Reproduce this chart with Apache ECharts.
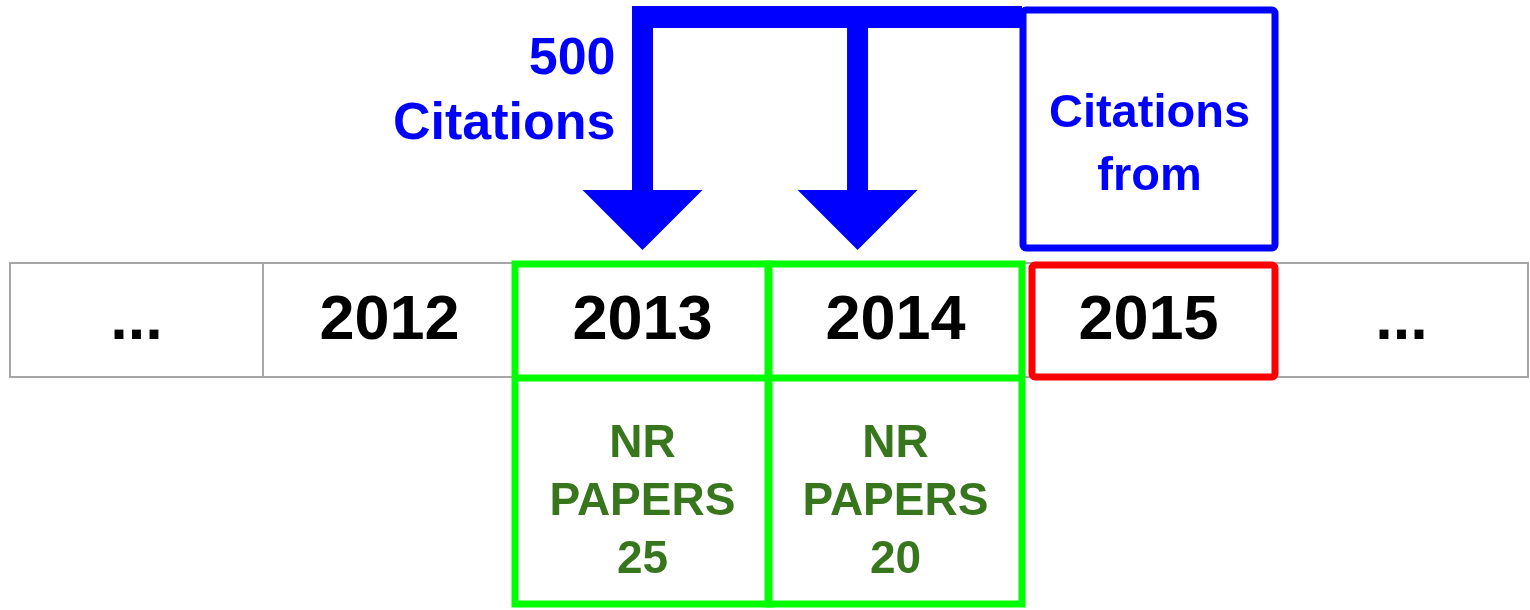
<!DOCTYPE html>
<html>
<head>
<meta charset="utf-8">
<style>
html, body { margin: 0; padding: 0; background: #fff; }
#main { width: 1530px; height: 610px; }
</style>
<script src="https://cdn.jsdelivr.net/npm/echarts@6/dist/echarts.min.js"></script>
</head>
<body>
<div id="main"></div>
<script>
// diagram content
const years = ['...', '2012', '2013', '2014', '2015', '...']
const paperYears = ['2013', '2014']
const paperCounts = [25, 20]
const sourceYear = '2015'
const citations = 500

const FONT = 'Liberation Sans'
const BLUE = '#0000ff'
const GREEN = '#00ff00'
const DARK_GREEN = '#38761d'

// layout, y axis is in px (inverted), x axis in cells
const ROW_TOP = 263
const ROW_BOTTOM = 377
const PAPER_BOTTOM = 604

function rectBetween (a, b) {
  return { x: a[0], y: a[1], width: b[0] - a[0], height: b[1] - a[1] }
}

function renderYear (params, api) {
  const i = api.value(0)
  const a = api.coord([i, ROW_TOP])
  const b = api.coord([i + 1, ROW_BOTTOM])
  return {
    type: 'group',
    children: [
      { type: 'rect', shape: rectBetween(a, b), style: { fill: '#fff', stroke: '#a6a6a6', lineWidth: 2 } },
      {
        type: 'text',
        style: {
          text: years[i], x: (a[0] + b[0]) / 2, y: (a[1] + b[1]) / 2 + 2,
          align: 'center', verticalAlign: 'middle',
          fontSize: 63, fontWeight: 'bold', fontFamily: FONT, fill: '#000'
        }
      }
    ]
  }
}

function renderPapers (params, api) {
  const i = api.value(0)
  const a = api.coord([i, ROW_TOP + 1])
  const b = api.coord([i + 1, PAPER_BOTTOM])
  const mid = api.coord([i, ROW_BOTTOM + 1])[1]
  return {
    type: 'group',
    children: [
      { type: 'rect', shape: rectBetween([a[0] - 1, a[1]], b), style: { fill: 'none', stroke: GREEN, lineWidth: 7 } },
      { type: 'line', shape: { x1: a[0] - 1, y1: mid, x2: b[0], y2: mid }, style: { stroke: GREEN, lineWidth: 7 } },
      {
        type: 'text',
        style: {
          text: 'NR\nPAPERS\n' + paperCounts[params.dataIndex],
          x: (a[0] + b[0]) / 2, y: api.coord([i, 502])[1],
          align: 'center', verticalAlign: 'middle', lineHeight: 58,
          fontSize: 46, fontWeight: 'bold', fontFamily: FONT, fill: DARK_GREEN
        }
      }
    ]
  }
}

function renderSource (params, api) {
  const i = api.value(0)
  const red0 = api.coord([i, ROW_TOP + 2])
  const red1 = api.coord([i + 1, ROW_BOTTOM])
  const blue0 = api.coord([i, 10])
  const blue1 = api.coord([i + 1, 248])
  return {
    type: 'group',
    children: [
      { type: 'rect', shape: Object.assign(rectBetween([red0[0] + 10, red0[1]], red1), { r: 3 }), style: { fill: 'none', stroke: '#ff0000', lineWidth: 7 } },
      { type: 'rect', shape: Object.assign(rectBetween([blue0[0] + 1, blue0[1]], blue1), { r: 3 }), style: { fill: 'none', stroke: BLUE, lineWidth: 7 } },
      {
        type: 'text',
        style: {
          text: 'Citations\nfrom', x: (blue0[0] + blue1[0]) / 2 + 1, y: api.coord([i, 146])[1],
          align: 'center', verticalAlign: 'middle', lineHeight: 63,
          fontSize: 47, fontWeight: 'bold', fontFamily: FONT, fill: BLUE
        }
      }
    ]
  }
}

// arrows from the source box down to each cited year
const arrowOffsets = [0.5, 0.35]
function renderArrows (params, api) {
  const src = api.value(0)
  const right = api.coord([src, 0])[0]
  const top = api.coord([0, 6])[1]
  const barBottom = api.coord([0, 28])[1]
  const headTop = api.coord([0, 190])[1]
  const tip = api.coord([0, 250])[1]
  const children = []
  const xs = paperYears.map((y, k) => api.coord([years.indexOf(y) + arrowOffsets[k], 0])[0])
  children.push({ type: 'rect', shape: { x: xs[0] - 10.5, y: top, width: right - xs[0] + 10.5, height: barBottom - top }, style: { fill: BLUE } })
  xs.forEach(x => {
    children.push({ type: 'rect', shape: { x: x - 10.5, y: top, width: 21, height: headTop - top + 1 }, style: { fill: BLUE } })
    children.push({ type: 'polygon', shape: { points: [[x - 60, headTop], [x + 60, headTop], [x, tip]] }, style: { fill: BLUE } })
  })
  children.push({
    type: 'text',
    style: {
      text: citations + '\nCitations', x: xs[0] - 27, y: api.coord([0, 92])[1],
      align: 'right', verticalAlign: 'middle', lineHeight: 65,
      fontSize: 52, fontWeight: 'bold', fontFamily: FONT, fill: BLUE
    }
  })
  return { type: 'group', children }
}

const chart = echarts.init(document.getElementById('main'))
chart.setOption({
  animation: false,
  grid: { left: 10, right: 2, top: 0, bottom: 0 },
  xAxis: { type: 'value', min: 0, max: years.length, show: false },
  yAxis: { type: 'value', min: 0, max: 610, inverse: true, show: false },
  series: [
    { type: 'custom', clip: false, renderItem: renderYear, data: years.map((y, i) => [i]), encode: { x: 0 } },
    { type: 'custom', clip: false, renderItem: renderPapers, data: paperYears.map(y => [years.indexOf(y)]), encode: { x: 0 } },
    { type: 'custom', clip: false, renderItem: renderSource, data: [[years.indexOf(sourceYear)]], encode: { x: 0 } },
    { type: 'custom', clip: false, renderItem: renderArrows, data: [[years.indexOf(sourceYear)]], encode: { x: 0 } }
  ]
})
</script>
</body>
</html>
